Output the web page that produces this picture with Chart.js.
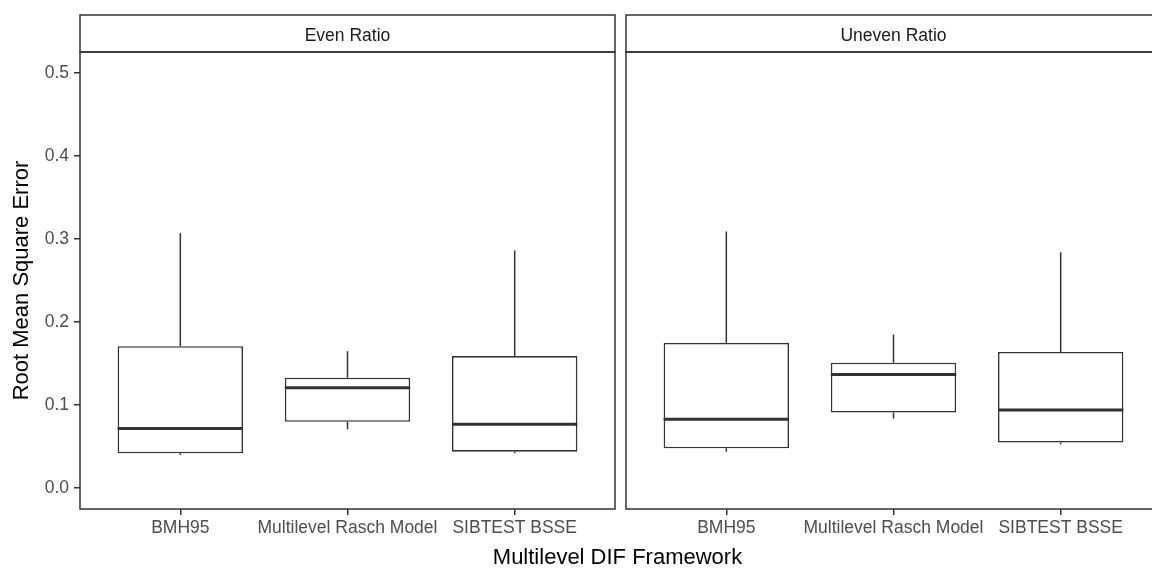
<!DOCTYPE html>
<html>
<head>
<meta charset="utf-8">
<script src="https://cdn.jsdelivr.net/npm/chart.js@4.4.1/dist/chart.umd.min.js"></script>
<style>
  html, body { margin: 0; padding: 0; background: #fff; overflow: hidden; width: 1152px; height: 569px; }
  #wrap { position: relative; width: 1152px; height: 569px; overflow: hidden; }
  canvas { position: absolute; top: 0; }
  #c1 { left: 0; }
  #c2 { left: 620px; }
  #xtitle { position: absolute; left: 0; width: 1235px; top: 546px; text-align: center;
            font: 22px 'Liberation Sans', Arial, sans-serif; line-height: 22px; color: #000; }
</style>
</head>
<body>
<div id="wrap">
  <canvas id="c1" width="621" height="569"></canvas>
  <canvas id="c2" width="560" height="569"></canvas>
  <div id="xtitle">Multilevel DIF Framework</div>
</div>
<script>
// Frameworks compared on the x axis of each facet
const categories = ['BMH95', 'Multilevel Rasch Model', 'SIBTEST BSSE'];
const facets = ['Even Ratio', 'Uneven Ratio'];
const yTicks = [0, 0.1, 0.2, 0.3, 0.4, 0.5];

// Five-number summaries of RMSE, Even Ratio facet
const evenMin    = [0.040, 0.071, 0.042];
const evenQ1     = [0.042, 0.080, 0.044];
const evenMedian = [0.072, 0.121, 0.077];
const evenQ3     = [0.171, 0.133, 0.159];
const evenMax    = [0.307, 0.165, 0.286];

// Five-number summaries of RMSE, Uneven Ratio facet
const unevenMin    = [0.044, 0.084, 0.053];
const unevenQ1     = [0.048, 0.091, 0.055];
const unevenMedian = [0.083, 0.137, 0.094];
const unevenQ3     = [0.175, 0.151, 0.164];
const unevenMax    = [0.309, 0.185, 0.284];

const INK = '#333333';
const TICK_TEXT = '#4d4d4d';
const FONT = "'Liberation Sans', Arial, sans-serif";
const BOX_WIDTH = 0.75;

Chart.defaults.font.family = FONT;

function boxDatasets(mins, q1, med, q3, maxs) {
  const pos = categories.map((_, i) => i + 1);
  return [
    {
      type: 'bar',
      data: pos.map((x, i) => ({ x, y: [q1[i], q3[i]] })),
      backgroundColor: '#ffffff',
      borderColor: INK,
      borderWidth: 1.6,
      borderSkipped: false,
      barPercentage: BOX_WIDTH,
      categoryPercentage: 1,
      order: 2
    },
    {
      type: 'line',
      data: pos.flatMap((x, i) => [
        { x, y: q3[i] }, { x, y: maxs[i] }, { x, y: null },
        { x, y: mins[i] }, { x, y: q1[i] }, { x, y: null }
      ]),
      borderColor: INK,
      borderWidth: 1.5,
      pointRadius: 0,
      spanGaps: false,
      order: 3
    },
    {
      type: 'line',
      data: pos.flatMap((x, i) => [
        { x: x - BOX_WIDTH / 2, y: med[i] }, { x: x + BOX_WIDTH / 2, y: med[i] }, { x, y: null }
      ]),
      borderColor: INK,
      borderWidth: 3,
      borderCapStyle: 'butt',
      pointRadius: 0,
      spanGaps: false,
      order: 1
    }
  ];
}

// Panel border plus the facet strip above it
const facetFrame = {
  id: 'facetFrame',
  afterDatasetsDraw(chart, args, opts) {
    const { ctx, chartArea: a } = chart;
    ctx.save();
    ctx.strokeStyle = INK;
    ctx.lineWidth = 1.5;
    ctx.strokeRect(a.left, a.top, a.right - a.left, a.bottom - a.top);
    ctx.strokeRect(a.left, opts.stripTop, a.right - a.left, a.top - opts.stripTop);
    ctx.fillStyle = '#1a1a1a';
    ctx.font = '17.5px ' + FONT;
    ctx.textAlign = 'center';
    ctx.textBaseline = 'middle';
    ctx.fillText(opts.label, (a.left + a.right) / 2, (opts.stripTop + a.top) / 2 + 3);
    ctx.restore();
  }
};

function makeChart(canvasId, label, sets, showY, padding) {
  return new Chart(document.getElementById(canvasId), {
    type: 'bar',
    data: { datasets: boxDatasets(...sets) },
    plugins: [facetFrame],
    options: {
      responsive: false,
      animation: false,
      layout: { padding },
      plugins: {
        legend: { display: false },
        tooltip: { enabled: false },
        facetFrame: { label, stripTop: 15 }
      },
      scales: {
        x: {
          type: 'linear',
          min: 0.4,
          max: 3.6,
          offset: false,
          bounds: 'data',
          afterBuildTicks: s => { s.ticks = categories.map((_, i) => ({ value: i + 1 })); },
          afterFit: s => { s.height = 60; },
          ticks: {
            callback: (v, i) => categories[i],
            autoSkip: false,
            maxRotation: 0,
            color: TICK_TEXT,
            font: { size: 17.5 },
            padding: 3
          },
          grid: { display: true, offset: false, drawOnChartArea: false, drawTicks: true,
                  tickLength: 6, color: INK, lineWidth: 1.5 },
          border: { display: false }
        },
        y: {
          display: showY,
          min: -0.025,
          max: 0.525,
          bounds: 'data',
          afterBuildTicks: s => { s.ticks = yTicks.map(v => ({ value: v })); },
          afterFit: s => { if (showY) s.width = 80; },
          ticks: {
            callback: v => v.toFixed(1),
            color: TICK_TEXT,
            font: { size: 17.5 },
            padding: 5
          },
          grid: { display: true, drawOnChartArea: false, drawTicks: true,
                  tickLength: 6, color: INK, lineWidth: 1.5 },
          border: { display: false },
          title: {
            display: true,
            text: 'Root Mean Square Error',
            color: '#000',
            font: { size: 22 },
            padding: { top: 9, bottom: 0 }
          }
        }
      }
    }
  });
}

makeChart('c1', facets[0], [evenMin, evenQ1, evenMedian, evenQ3, evenMax], true,
          { left: 0, top: 52, right: 6, bottom: 0 });
makeChart('c2', facets[1], [unevenMin, unevenQ1, unevenMedian, unevenQ3, unevenMax], false,
          { left: 6, top: 52, right: 19, bottom: 0 });
</script>
</body>
</html>
